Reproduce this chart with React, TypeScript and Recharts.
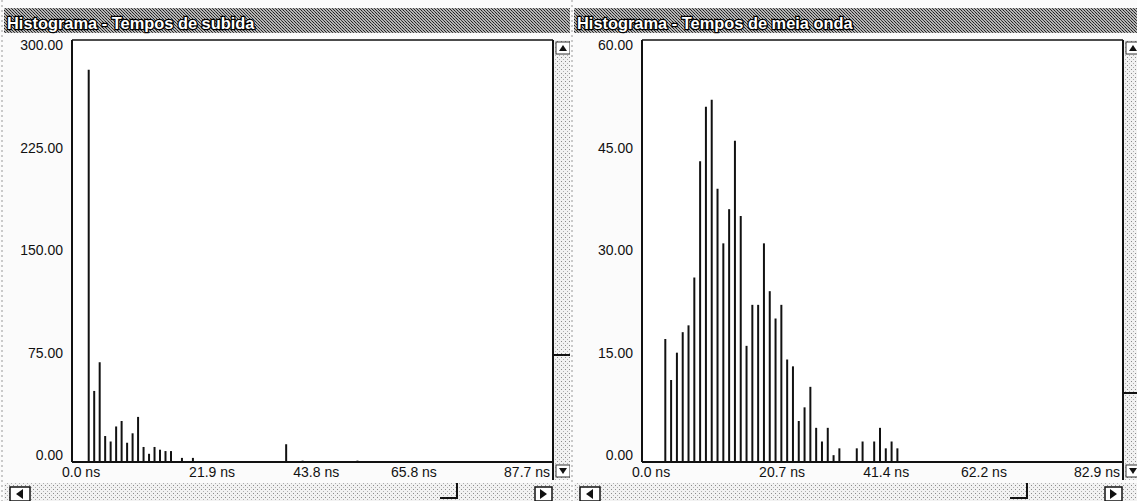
import React from 'react';
import { BarChart, Bar, XAxis, YAxis } from 'recharts';

// ---- Data ----
const riseTitle = 'Histograma - Tempos de subida';
const riseBins = [3, 4, 5, 6, 7, 8, 9, 10, 11, 12, 13, 14, 15, 16, 17, 18, 20, 22, 39, 42, 52];
const riseCounts = [287, 52, 73, 19, 15, 26, 30, 14, 21, 33, 11, 6, 11, 9, 8, 8, 3, 3, 13, 1, 1];
const riseXTicks = [0, 21.9, 43.8, 65.8, 87.7];
const riseYTicks = [0, 75, 150, 225, 300];
const riseYMax = 308.8;

const halfTitle = 'Histograma - Tempos de meia onda';
const halfBins = [4, 5, 6, 7, 8, 9, 10, 11, 12, 13, 14, 15, 16, 17, 18, 19, 20, 21, 22, 23, 24, 25, 26, 27, 28, 29, 30, 31, 32, 33, 34, 37, 38, 40, 41, 42, 43, 44];
const halfCounts = [18, 12, 16, 19, 20, 27, 44, 52, 53, 40, 32, 37, 47, 36, 17, 23, 23, 32, 25, 21, 23, 15, 14, 6, 8, 11, 5, 3, 5, 1, 2, 2, 3, 3, 5, 2, 3, 2];
const halfXTicks = [0, 20.7, 41.4, 62.2, 82.9];
const halfYTicks = [0, 15, 30, 45, 60];
const halfYMax = 61.76;

// ---- Layout ----
const PANEL_W = 575;
const H = 501;
const PL = 72;
const PR = 553;
const PT = 40;
const PB = 462;
const FONT = '"Liberation Sans", Arial, sans-serif';

const xAnchors = ['start', 'start', 'middle', 'end', 'end'];
const xDx = [-10, -3, 4, 4, -3];

function makeXTick(ticks: number[]) {
  return (props: any) => {
    const { x, index } = props;
    const v = ticks[index];
    return (
      <text x={x + xDx[index]} y={477} textAnchor={xAnchors[index] as any} fontFamily={FONT} fontSize={14} fill="#111">
        {`${v.toFixed(1)} ns`}
      </text>
    );
  };
}

function YTick(props: any) {
  const { x, y, payload } = props;
  return (
    <text x={x - 1} y={y - 2} textAnchor="end" fontFamily={FONT} fontSize={14} fill="#111">
      {Number(payload.value).toFixed(2)}
    </text>
  );
}

function Chrome({ id, title, thumbY }: { id: string; title: string; thumbY: number }) {
  return (
    <svg width={PANEL_W} height={H} style={{ position: 'absolute', left: 0, top: 0 }}>
      <defs>
        <pattern id={`dk-${id}`} width="3" height="3" patternUnits="userSpaceOnUse">
          <rect width="3" height="3" fill="#b4b4b4" />
          <rect x="0" y="0" width="1" height="1" fill="#222" />
          <rect x="1" y="1" width="1" height="1" fill="#222" />
          <rect x="2" y="2" width="1" height="1" fill="#444" />
        </pattern>
        <pattern id={`lt-${id}`} width="4" height="4" patternUnits="userSpaceOnUse">
          <rect width="4" height="4" fill="#f2f2f2" />
          <rect x="1" y="1" width="1" height="1" fill="#8a8a8a" />
          <rect x="3" y="3" width="1" height="1" fill="#b0b0b0" />
        </pattern>
      </defs>
      <rect x={0} y={0} width={PANEL_W} height={H} fill="#fbfbfb" />
      <line x1={2} y1={0} x2={2} y2={H} stroke="#999" strokeDasharray="2 3" />
      {/* title bar */}
      <rect x={4} y={8} width={PANEL_W - 6} height={25} fill={`url(#dk-${id})`} />
      <text x={7} y={29} fontFamily={FONT} fontWeight="bold" fontSize={16.4} fill="#fff" stroke="#000" strokeWidth={2.5} paintOrder="stroke">
        {title}
      </text>
      {/* plot area */}
      <rect x={PL} y={PT} width={PR - PL} height={PB - PT} fill="#fff" />
      <line x1={PL} y1={PT} x2={PR} y2={PT} stroke="#111" strokeWidth={1.5} />
      {/* vertical scrollbar */}
      <rect x={PR} y={PT} width={20} height={440} fill={`url(#lt-${id})`} />
      <line x1={PR} y1={PT} x2={PR} y2={480} stroke="#111" strokeWidth={2} />
      <line x1={PR + 20} y1={0} x2={PR + 20} y2={H} stroke="#111" strokeWidth={2} />
      <rect x={PR + 3} y={PT + 2} width={14} height={12} fill="#fff" stroke="#333" />
      <path d={`M ${PR + 6} ${PT + 11} L ${PR + 10} ${PT + 5} L ${PR + 14} ${PT + 11} Z`} fill="#111" />
      <line x1={PR} y1={thumbY} x2={PR + 20} y2={thumbY} stroke="#111" strokeWidth={2} />
      <line x1={PR + 18} y1={thumbY - 20} x2={PR + 18} y2={thumbY} stroke="#111" strokeWidth={1.5} />
      <rect x={PR + 3} y={465} width={14} height={12} fill="#fff" stroke="#333" />
      <path d={`M ${PR + 6} ${468} L ${PR + 10} ${474} L ${PR + 14} ${468} Z`} fill="#111" />
      {/* horizontal scrollbar */}
      <rect x={4} y={483} width={PR + 16} height={18} fill={`url(#lt-${id})`} />
      <rect x={10} y={487} width={20} height={14} fill="#fff" stroke="#111" strokeWidth={1.5} />
      <path d={`M 16 494 L 23 489 L 23 499 Z`} fill="#111" />
      <line x1={440} y1={498} x2={457} y2={498} stroke="#111" strokeWidth={2} />
      <line x1={457} y1={483} x2={457} y2={499} stroke="#111" strokeWidth={2} />
      <rect x={535} y={487} width={17} height={14} fill="#fff" stroke="#111" strokeWidth={1.5} />
      <path d={`M 547 494 L 540 489 L 540 499 Z`} fill="#111" />
      <line x1={PR + 20} y1={483} x2={PR + 20} y2={H} stroke="#111" strokeWidth={2} />
    </svg>
  );
}

function Panel({
  id, title, bins, counts, xTicks, yTicks, yMax, left, thumbY,
}: {
  id: string; title: string; bins: number[]; counts: number[]; xTicks: number[]; yTicks: number[]; yMax: number; left: number; thumbY: number;
}) {
  const data = bins.map((b, i) => ({ t: b, n: counts[i] }));
  const XTick = makeXTick(xTicks);
  return (
    <div style={{ position: 'absolute', left, top: 0, width: PANEL_W, height: H, overflow: 'hidden' }}>
      <Chrome id={id} title={title} thumbY={thumbY} />
      <div style={{ position: 'absolute', left: 0, top: 0 }}>
        <BarChart width={PANEL_W} height={H} data={data} margin={{ top: PT, right: PANEL_W - PR, bottom: 0, left: 0 }}>
          <XAxis
            dataKey="t"
            type="number"
            domain={[0, xTicks[xTicks.length - 1]]}
            ticks={xTicks}
            interval={0}
            allowDataOverflow
            height={H - PB}
            axisLine={{ stroke: '#111', strokeWidth: 2 }}
            tickLine={false}
            tick={<XTick />}
          />
          <YAxis
            type="number"
            domain={[0, yMax]}
            ticks={yTicks}
            interval={0}
            allowDataOverflow
            width={PL}
            axisLine={{ stroke: '#111', strokeWidth: 2 }}
            tickLine={false}
            tick={<YTick />}
          />
          <Bar dataKey="n" fill="#111" barSize={2} isAnimationActive={false} />
        </BarChart>
      </div>
    </div>
  );
}

export default function App() {
  return (
    <div style={{ position: 'fixed', left: 0, top: 0, width: 1137, height: 501, overflow: 'hidden', background: '#fbfbfb' }}>
      <Panel id="a" title={riseTitle} bins={riseBins} counts={riseCounts} xTicks={riseXTicks} yTicks={riseYTicks} yMax={riseYMax} left={0} thumbY={355} />
      <Panel id="b" title={halfTitle} bins={halfBins} counts={halfCounts} xTicks={halfXTicks} yTicks={halfYTicks} yMax={halfYMax} left={570} thumbY={393} />
    </div>
  );
}
